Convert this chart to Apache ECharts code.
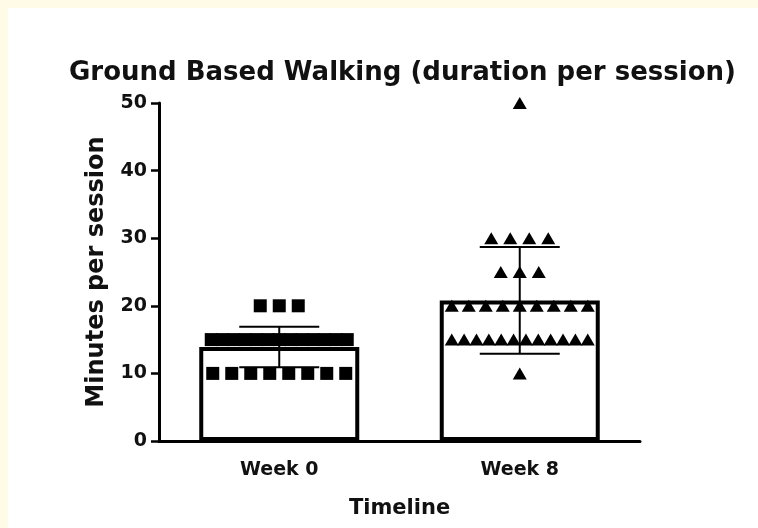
<!DOCTYPE html>
<html>
<head>
<meta charset="utf-8">
<script src="https://cdn.jsdelivr.net/npm/echarts@6/dist/echarts.min.js"></script>
<style>
html,body{margin:0;padding:0;background:#fffbe6;}
#chart{width:758px;height:528px;}
</style>
</head>
<body>
<div id="chart"></div>
<script>
// ---- data ----
const categories = ['Week 0', 'Week 8'];
const means = [13.9, 20.8];
const sds = [3.0, 7.9];
const week0Points = [10,10,10,10,10,10,10,10, 15,15,15,15,15,15,15,15,15,15,15,15,15, 20,20,20];
const week8Points = [10, 15,15,15,15,15,15,15,15,15,15,15,15, 20,20,20,20,20,20,20,20,20, 25,25,25, 30,30,30,30, 50];
const yTicks = [0, 10, 20, 30, 40, 50];

const FONT = 'DejaVu Sans';
const INK = '#111';

// spread equal values horizontally in a row around the category centre
function spread(points, catIndex) {
  const groups = {};
  points.forEach(v => { (groups[v] = groups[v] || []).push(v); });
  const out = [];
  Object.keys(groups).forEach(key => {
    const g = groups[key];
    const k = g.length;
    const step = k > 1 ? Math.min(19, 136 / (k - 1)) : 0;
    g.forEach((v, i) => {
      out.push({ value: [catIndex, v], symbolOffset: [(i - (k - 1) / 2) * step, 0] });
    });
  });
  return out;
}

const chart = echarts.init(document.getElementById('chart'), null, { renderer: 'canvas' });

const option = {
  backgroundColor: 'transparent',
  animation: false,
  graphic: [{
    type: 'rect', left: 8, top: 8, z: -10, silent: true,
    shape: { width: 750, height: 520 },
    style: { fill: '#ffffff' }
  }],
  title: {
    text: 'Ground Based Walking (duration per session)',
    left: 64, top: 55,
    textStyle: { fontFamily: FONT, fontWeight: 'bold', fontSize: 26, color: INK }
  },
  grid: { left: 159, top: 103, width: 481, bottom: 87 },
  xAxis: {
    type: 'category',
    data: categories,
    name: 'Timeline',
    nameLocation: 'middle',
    nameGap: 57,
    nameTextStyle: { fontFamily: FONT, fontWeight: 'bold', fontSize: 21, color: INK },
    axisLine: { lineStyle: { color: '#000', width: 3 } },
    axisTick: { alignWithLabel: true, length: 7, lineStyle: { color: '#000', width: 2.5 } },
    axisLabel: { fontFamily: FONT, fontWeight: 'bold', fontSize: 19, color: INK, margin: 20 },
    splitLine: { show: false }
  },
  yAxis: {
    type: 'value',
    min: yTicks[0], max: yTicks[yTicks.length - 1], interval: 10,
    name: 'Minutes per session',
    nameLocation: 'middle',
    nameGap: 50,
    nameTextStyle: { fontFamily: FONT, fontWeight: 'bold', fontSize: 24, color: INK },
    axisLine: { show: true, lineStyle: { color: '#000', width: 3 } },
    axisTick: { show: true, length: 8, lineStyle: { color: '#000', width: 2.5 } },
    axisLabel: { fontFamily: FONT, fontWeight: 'bold', fontSize: 19, color: INK, margin: 12 },
    splitLine: { show: false }
  },
  series: [
    {
      type: 'bar',
      data: means,
      barWidth: 160,
      z: 2,
      itemStyle: { color: '#fff', borderColor: '#000', borderWidth: 4 }
    },
    {
      type: 'scatter',
      data: spread(week0Points, 0),
      symbol: 'rect',
      symbolSize: 13,
      z: 3,
      itemStyle: { color: '#000', opacity: 1 }
    },
    {
      type: 'scatter',
      data: spread(week8Points, 1),
      symbol: 'triangle',
      symbolSize: [14, 12],
      z: 3,
      itemStyle: { color: '#000', opacity: 1 }
    },
    {
      type: 'custom',
      z: 4,
      data: means.map((m, i) => [i, m, sds[i]]),
      renderItem: function (params, api) {
        const c = api.value(0), m = api.value(1), s = api.value(2);
        const top = api.coord([c, m + s]);
        const bot = api.coord([c, m - s]);
        const hw = 40;
        const st = { stroke: '#000', lineWidth: 2 };
        return {
          type: 'group',
          children: [
            { type: 'line', shape: { x1: top[0], y1: top[1], x2: bot[0], y2: bot[1] }, style: st },
            { type: 'line', shape: { x1: top[0] - hw, y1: top[1], x2: top[0] + hw, y2: top[1] }, style: st },
            { type: 'line', shape: { x1: bot[0] - hw, y1: bot[1], x2: bot[0] + hw, y2: bot[1] }, style: st }
          ]
        };
      }
    }
  ]
};
chart.setOption(option);
</script>
</body>
</html>
